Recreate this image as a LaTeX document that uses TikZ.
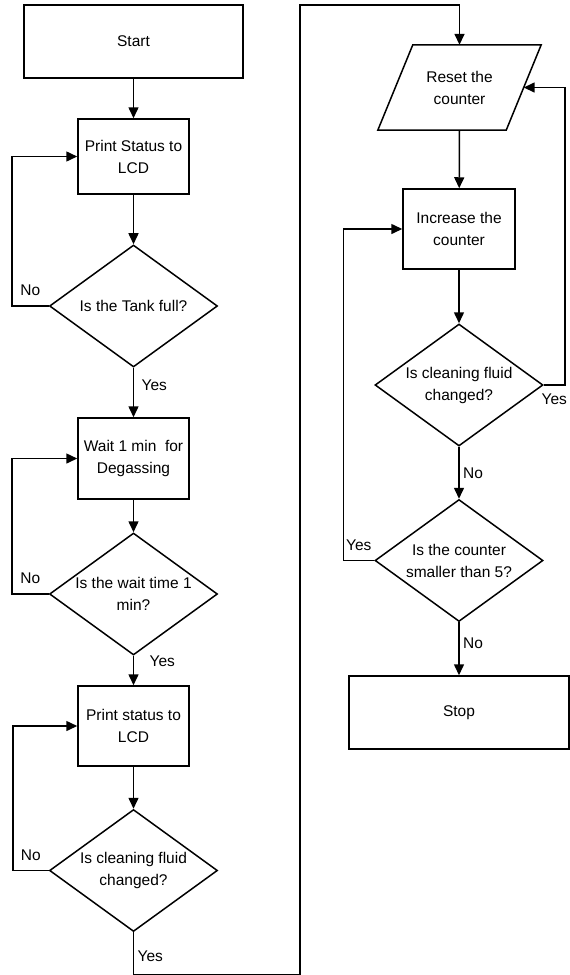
\documentclass[tikz,border=0pt]{standalone}
\usepackage{fontspec}
\setmainfont{Liberation Sans}
\usetikzlibrary{shapes.geometric,arrows.meta}

\tikzset{
    box/.style={draw, rectangle, line width=1.5pt, align=center, inner sep=2pt},
    decision/.style={draw, diamond, aspect=1.38, line width=1.5pt, align=center, inner sep=0pt,
        minimum width=168pt, minimum height=122pt},
    arr/.style={line width=1.5pt, -{Triangle[length=11pt,width=10pt]}},
}

\begin{document}
\begin{tikzpicture}[x=1pt, y=-1pt, font=\fontsize{15.5}{22}\selectfont]
    \useasboundingbox (0,0) rectangle (570,975);

    % Left column
    \node[box, minimum width=219pt, minimum height=73pt] (start) at (133.5,41.5) {Start};
    \node[box, minimum width=111pt, minimum height=75pt] (ps1) at (133.5,156.5) {Print Status to\\LCD};
    \node[decision] (d1) at (133.5,306) {Is the Tank full?};
    \node[box, minimum width=111pt, minimum height=81pt] (wait) at (133.5,458.5) {Wait 1 min~ for\\Degassing};
    \node[decision] (d2) at (133.5,594) {Is the wait time 1\\min?};
    \node[box, minimum width=111pt, minimum height=80pt] (ps2) at (133.5,726) {Print status to\\LCD};
    \node[decision] (d3) at (133.5,870.5) {Is cleaning fluid\\changed?};

    % Right column
    \node[minimum width=128pt, minimum height=85pt, align=center] (reset) at (459.5,87.5) {Reset the\\counter};
    \draw[line width=1.5pt] ([xshift=-17.5pt]reset.south west) -- ([xshift=17.5pt]reset.north west)
        -- ([xshift=17.5pt]reset.north east) -- ([xshift=-17.5pt]reset.south east) -- cycle;
    \node[box, minimum width=112pt, minimum height=80pt] (inc) at (459,229) {Increase the\\counter};
    \node[decision] (d4) at (459,385) {Is cleaning fluid\\changed?};
    \node[decision] (d5) at (459,560.5) {Is the counter\\smaller than 5?};
    \node[box, minimum width=220pt, minimum height=73pt] (stop) at (459,712.5) {Stop};

    % Connectors, left column
    \draw[arr] (start) -- (ps1);
    \draw[arr] (ps1) -- (d1);
    \draw[arr] (d1.west) -- node[above=6pt] {No} ++(-37,0) |- (ps1.west);
    \draw[arr] (d1) -- node[right=4pt, pos=0.35] {Yes} (wait);
    \draw[arr] (wait) -- (d2);
    \draw[arr] (d2.west) -- node[above=6pt] {No} ++(-37,0) |- (wait.west);
    \draw[arr] (d2) -- node[right=12pt, pos=0.2] {Yes} (ps2);
    \draw[arr] (ps2) -- (d3);
    \draw[arr] (d3.west) -- node[above=6pt] {No} ++(-36,0) |- (ps2.west);

    % Over to the right column
    \coordinate (ret) at (300,5);
    \draw[arr] (d3.south) -- node[right, pos=0.57] {Yes} ++(0,42) -| (ret) -| (reset.north);

    % Connectors, right column
    \draw[arr] (reset.south) -- (inc);
    \draw[arr] (inc) -- (d4);
    \draw[arr] (d4.east) -- node[below, yshift=-5pt] {Yes} ++(21,0) |- (reset.east);
    \draw[arr] (d4) -- node[right] {No} (d5);
    \draw[arr] (d5.west) -- node[above=6pt] {Yes} ++(-31,0) |- (inc.west);
    \draw[arr] (d5) -- node[right, pos=0.4] {No} (stop);
\end{tikzpicture}
\end{document}
